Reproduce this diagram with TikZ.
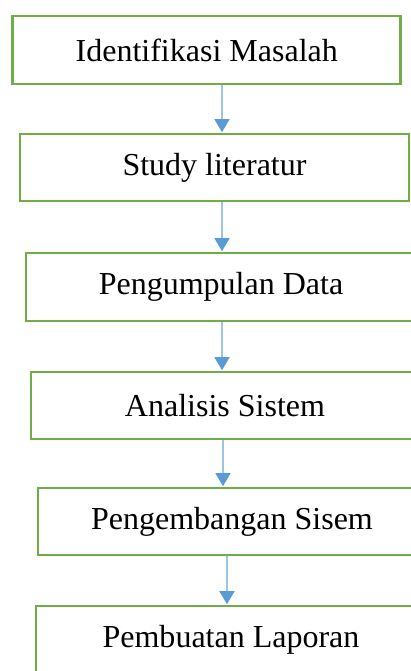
\documentclass[tikz,border=0pt]{standalone}
\usepackage{fontspec}
\setmainfont{Liberation Serif}
\usetikzlibrary{arrows.meta}
\definecolor{boxgreen}{HTML}{70AD47}
\definecolor{arrowblue}{HTML}{5B9BD5}
\definecolor{linelight}{HTML}{9DC3E6}
\tikzset{
  stepbox/.style={draw=boxgreen, line width=2.6pt, fill=white, minimum width=#1, minimum height=67pt, inner sep=0pt, font=\fontsize{32}{38}\selectfont, anchor=center},
  flowarrow/.style={draw=linelight, line width=1.4pt, -{Triangle[length=13pt,width=15pt,color=arrowblue]}, shorten >=0.5pt}
}
\begin{document}
\begin{tikzpicture}[x=1pt,y=-1pt]
\useasboundingbox (0,0) rectangle (411,671);
\clip (0,0) rectangle (411,671);
\fill[white] (0,0) rectangle (411,671);
\node[stepbox=388pt, minimum height=68pt] (b1) at (206.75,50) {Identifikasi Masalah};
\node[stepbox=389pt] (b2) at (214.5,167.5) {Study literatur};
\node[stepbox=390pt, minimum height=68pt] (b3) at (221,287) {Pengumpulan Data};
\node[stepbox=388pt] (b4) at (225,405.5) {Analisis Sistem};
\node[stepbox=388pt] (b5) at (232,521.5) {Pengembangan Sisem};
\node[stepbox=390pt] (b6) at (231,639.5) {Pembuatan Laporan};
\draw[flowarrow] ([xshift=15.25pt]b1.south) -- ([xshift=7.5pt]b2.north);
\draw[flowarrow] ([xshift=7.5pt]b2.south) -- ([xshift=1pt]b3.north);
\draw[flowarrow] ([xshift=1pt]b3.south) -- ([xshift=-3pt]b4.north);
\draw[flowarrow] ([xshift=-2pt]b4.south) -- ([xshift=-9pt]b5.north);
\draw[flowarrow] ([xshift=-5pt]b5.south) -- ([xshift=-4pt]b6.north);
\end{tikzpicture}
\end{document}
